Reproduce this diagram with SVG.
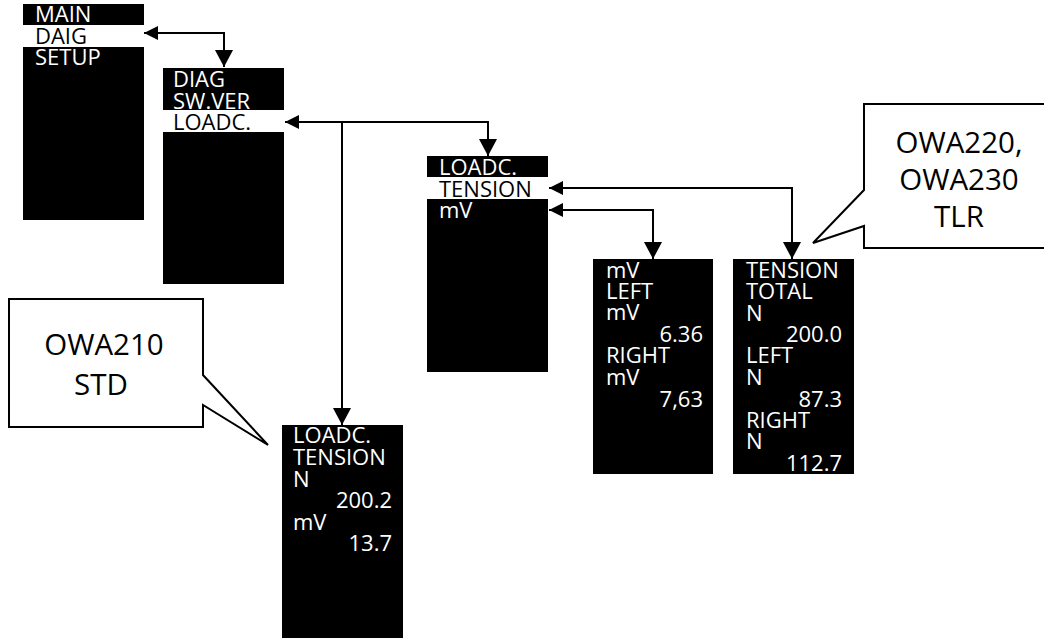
<svg xmlns="http://www.w3.org/2000/svg" width="1044" height="638" viewBox="0 0 1044 638">
<style>
.box{fill:#000}
.band{fill:#fff}
.t{font-family:"Open Sans","Noto Sans","Liberation Sans",sans-serif;font-size:22px;fill:#fff}
.tb{font-family:"Open Sans","Noto Sans","Liberation Sans",sans-serif;font-size:22px;fill:#000}
.v{text-anchor:end}
.conn{fill:none;stroke:#000;stroke-width:2}
.call{fill:#fff;stroke:#000;stroke-width:2;stroke-linejoin:miter}
.ct{font-family:"Open Sans","Noto Sans","Liberation Sans",sans-serif;font-size:29.5px;fill:#000;text-anchor:middle}
</style>
<defs>
<marker id="ah" markerUnits="userSpaceOnUse" markerWidth="14" markerHeight="14" refX="14" refY="7" orient="auto-start-reverse">
<path d="M0,0 L14,7 L0,14 Z" fill="#000"/>
</marker>
<marker id="ahd" markerUnits="userSpaceOnUse" markerWidth="18" markerHeight="18" refX="17" refY="9" orient="auto">
<path d="M0,0 L17,9 L0,18 Z" fill="#000"/>
</marker>
</defs>

<g id="connectors">
<path class="conn" d="M144,33 H224 V67" marker-start="url(#ah)" marker-end="url(#ahd)"/>
<path class="conn" d="M285,122 H488 V156" marker-start="url(#ah)" marker-end="url(#ahd)"/>
<path class="conn" d="M342,122 V425" marker-end="url(#ahd)"/>
<path class="conn" d="M549,188 H792 V259" marker-start="url(#ah)" marker-end="url(#ahd)"/>
<path class="conn" d="M549,210 H653 V259" marker-start="url(#ah)" marker-end="url(#ahd)"/>
</g>

<g id="main-menu">
<rect class="box" x="23" y="4" width="121" height="216"/>
<rect class="band" x="23" y="25" width="121" height="22"/>
<text class="t" x="35" y="22">MAIN</text>
<text class="tb" x="35" y="44">DAIG</text>
<text class="t" x="35" y="65">SETUP</text>
</g>

<g id="diag-menu">
<rect class="box" x="163" y="68" width="121" height="216"/>
<rect class="band" x="163" y="110" width="121" height="22"/>
<text class="t" x="173" y="87">DIAG</text>
<text class="t" x="173" y="109">SW.VER</text>
<text class="tb" x="173" y="130">LOADC.</text>
</g>

<g id="loadc-menu">
<rect class="box" x="427" y="156" width="121" height="216"/>
<rect class="band" x="427" y="177" width="121" height="22"/>
<text class="t" x="439" y="175">LOADC.</text>
<text class="tb" x="439" y="197">TENSION</text>
<text class="t" x="439" y="218">mV</text>
</g>

<g id="mv-screen">
<rect class="box" x="593" y="259" width="120" height="215"/>
<text class="t" x="606" y="278">mV</text>
<text class="t" x="606" y="299">LEFT</text>
<text class="t" x="606" y="320">mV</text>
<text class="t v" x="703" y="342">6.36</text>
<text class="t" x="606" y="363">RIGHT</text>
<text class="t" x="606" y="385">mV</text>
<text class="t v" x="703" y="407">7,63</text>
</g>

<g id="tension-screen">
<rect class="box" x="733" y="259" width="121" height="215"/>
<text class="t" x="746" y="278">TENSION</text>
<text class="t" x="746" y="299">TOTAL</text>
<text class="t" x="746" y="321">N</text>
<text class="t v" x="842" y="342">200.0</text>
<text class="t" x="746" y="363">LEFT</text>
<text class="t" x="746" y="385">N</text>
<text class="t v" x="842" y="407">87.3</text>
<text class="t" x="746" y="428">RIGHT</text>
<text class="t" x="746" y="449">N</text>
<text class="t v" x="842" y="471">112.7</text>
</g>

<g id="std-screen">
<rect class="box" x="282" y="425" width="121" height="213"/>
<text class="t" x="293" y="443">LOADC.</text>
<text class="t" x="293" y="465">TENSION</text>
<text class="t" x="293" y="487">N</text>
<text class="t v" x="392" y="508">200.2</text>
<text class="t" x="293" y="530">mV</text>
<text class="t v" x="392" y="551">13.7</text>
</g>

<g id="callout-tlr">
<path class="call" d="M864,104 H1050 V248 H864 V226 L813,243 L864,190 Z"/>
<text class="ct" x="959" y="153">OWA220,</text>
<text class="ct" x="959" y="190">OWA230</text>
<text class="ct" x="959" y="227">TLR</text>
</g>

<g id="callout-std">
<path class="call" d="M9,299 H203 V375 L268,445 L203,405 V427 H9 Z"/>
<text class="ct" x="104" y="355">OWA210</text>
<text class="ct" x="101" y="395">STD</text>
</g>
</svg>
